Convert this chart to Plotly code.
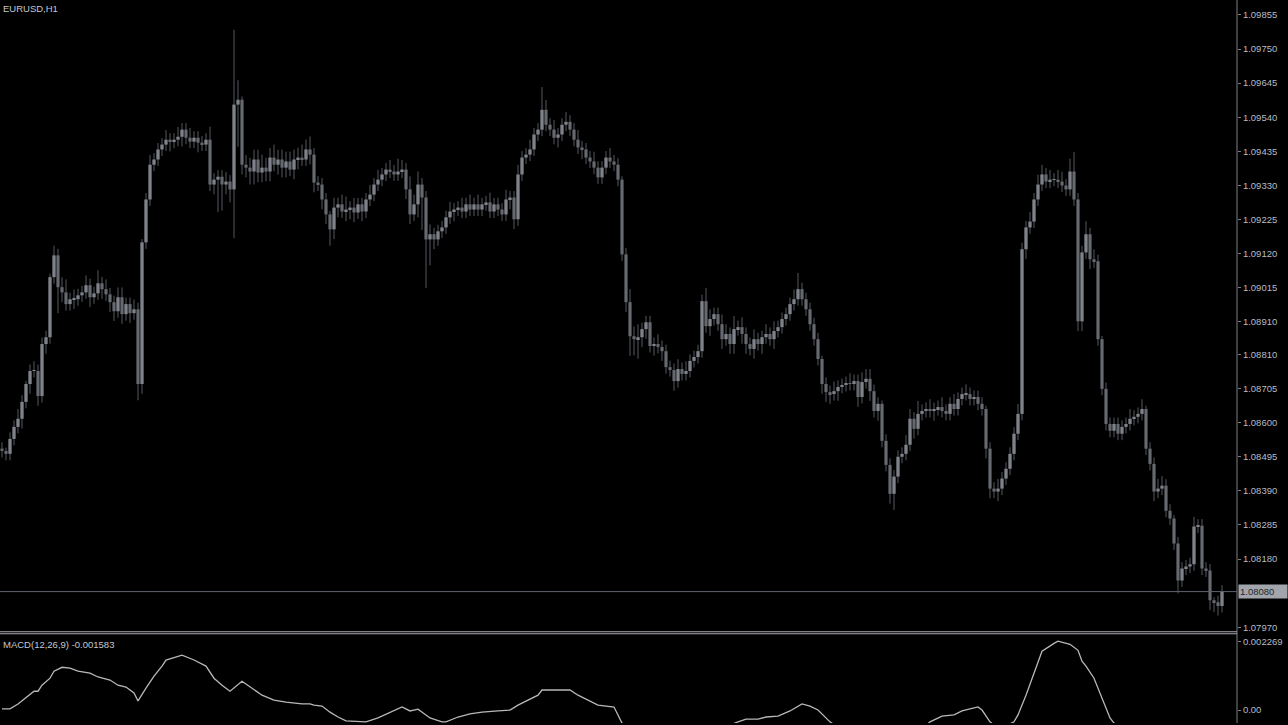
import plotly.graph_objects as go

# ---------------- data ----------------
symbol_label = "EURUSD,H1"
macd_label = "MACD(12,26,9) -0.001583"

first_open = 1.08520
closes = [
    1.08513, 1.08504, 1.08550, 1.08587, 1.08612, 1.08664, 1.08719, 1.08759, 1.08759, 1.08682,
    1.08842, 1.08863, 1.09048, 1.09115, 1.09017, 1.09001, 1.08965, 1.08980, 1.08980, 1.08992,
    1.09001, 1.09023, 1.08986, 1.08998, 1.09029, 1.09011, 1.08995, 1.08971, 1.08943, 1.08986,
    1.08934, 1.08965, 1.08937, 1.08949, 1.08719, 1.09155, 1.09287, 1.09394, 1.09410, 1.09441,
    1.09456, 1.09471, 1.09465, 1.09471, 1.09480, 1.09502, 1.09477, 1.09465, 1.09477, 1.09462,
    1.09456, 1.09471, 1.09333, 1.09348, 1.09357, 1.09333, 1.09342, 1.09318, 1.09579, 1.09594,
    1.09394, 1.09385, 1.09373, 1.09410, 1.09370, 1.09385, 1.09373, 1.09416, 1.09394, 1.09410,
    1.09385, 1.09404, 1.09379, 1.09410, 1.09416, 1.09410, 1.09441, 1.09425, 1.09339, 1.09333,
    1.09287, 1.09241, 1.09195, 1.09262, 1.09272, 1.09250, 1.09256, 1.09262, 1.09247, 1.09272,
    1.09250, 1.09287, 1.09302, 1.09333, 1.09348, 1.09364, 1.09379, 1.09373, 1.09364, 1.09373,
    1.09379, 1.09318, 1.09241, 1.09272, 1.09333, 1.09293, 1.09164, 1.09180, 1.09164, 1.09189,
    1.09201, 1.09232, 1.09250, 1.09256, 1.09262, 1.09250, 1.09272, 1.09256, 1.09272, 1.09256,
    1.09272, 1.09278, 1.09250, 1.09272, 1.09256, 1.09241, 1.09287, 1.09293, 1.09226, 1.09364,
    1.09416, 1.09425, 1.09441, 1.09487, 1.09502, 1.09563, 1.09517, 1.09502, 1.09477, 1.09487,
    1.09517, 1.09526, 1.09502, 1.09471, 1.09447, 1.09441, 1.09416, 1.09404, 1.09385, 1.09355,
    1.09385, 1.09416, 1.09404, 1.09394, 1.09348, 1.09118, 1.08971, 1.08866, 1.08857, 1.08863,
    1.08888, 1.08909, 1.08836, 1.08842, 1.08833, 1.08820, 1.08771, 1.08762, 1.08728, 1.08765,
    1.08750, 1.08759, 1.08790, 1.08802, 1.08820, 1.08974, 1.08897, 1.08919, 1.08934, 1.08903,
    1.08857, 1.08873, 1.08842, 1.08888, 1.08894, 1.08873, 1.08842, 1.08827, 1.08857, 1.08842,
    1.08863, 1.08873, 1.08857, 1.08882, 1.08894, 1.08919, 1.08934, 1.08965, 1.08980, 1.09011,
    1.08980, 1.08949, 1.08903, 1.08857, 1.08796, 1.08719, 1.08694, 1.08688, 1.08697, 1.08710,
    1.08716, 1.08722, 1.08719, 1.08728, 1.08679, 1.08725, 1.08735, 1.08697, 1.08636, 1.08658,
    1.08544, 1.08470, 1.08381, 1.08434, 1.08495, 1.08504, 1.08532, 1.08612, 1.08581, 1.08627,
    1.08636, 1.08642, 1.08636, 1.08642, 1.08648, 1.08636, 1.08627, 1.08658, 1.08642, 1.08673,
    1.08688, 1.08688, 1.08673, 1.08679, 1.08658, 1.08642, 1.08520, 1.08397, 1.08388, 1.08397,
    1.08428, 1.08458, 1.08504, 1.08566, 1.08627, 1.09134, 1.09201, 1.09219, 1.09287, 1.09333,
    1.09364, 1.09342, 1.09348, 1.09348, 1.09342, 1.09330, 1.09318, 1.09373, 1.09287, 1.08912,
    1.09124, 1.09180, 1.09103, 1.09097, 1.08857, 1.08704, 1.08596, 1.08575, 1.08596, 1.08566,
    1.08587, 1.08596, 1.08612, 1.08618, 1.08627, 1.08642, 1.08520, 1.08473, 1.08388, 1.08397,
    1.08406, 1.08329, 1.08305, 1.08228, 1.08114, 1.08151, 1.08157, 1.08164, 1.08280, 1.08283,
    1.08151, 1.08145, 1.08053, 1.08047, 1.08036, 1.08080,
]

wick_up_pips = [
    2, 1, 2, 2, 3, 2, 1, 2, 3, 2,
    2, 2, 1, 3, 2, 3, 4, 2, 3, 2,
    2, 3, 2, 2, 4, 2, 3, 2, 2, 3,
    3, 2, 2, 3, 2, 1, 2, 3, 2, 2,
    2, 3, 2, 2, 3, 2, 2, 3, 2, 2,
    2, 2, 4, 2, 2, 2, 3, 2, 23, 6,
    1, 3, 3, 3, 3, 4, 3, 3, 4, 3,
    3, 3, 3, 3, 3, 4, 3, 4, 2, 2,
    2, 2, 1, 3, 2, 3, 4, 2, 3, 2,
    2, 2, 3, 2, 3, 2, 2, 3, 2, 4,
    3, 2, 4, 3, 4, 2, 2, 3, 2, 2,
    2, 2, 3, 2, 2, 3, 2, 3, 2, 3,
    2, 2, 3, 2, 2, 2, 3, 2, 2, 3,
    2, 2, 3, 2, 2, 7, 3, 2, 3, 2,
    2, 3, 2, 2, 3, 2, 2, 2, 3, 2,
    2, 2, 3, 2, 2, 1, 2, 4, 3, 4,
    2, 2, 2, 2, 3, 2, 2, 2, 2, 3,
    2, 3, 2, 2, 2, 2, 4, 3, 2, 2,
    3, 3, 2, 4, 2, 3, 2, 2, 3, 2,
    2, 3, 2, 3, 2, 2, 2, 2, 3, 5,
    2, 2, 2, 2, 2, 1, 2, 2, 3, 2,
    2, 2, 3, 2, 2, 3, 3, 3, 2, 2,
    1, 2, 2, 2, 2, 2, 3, 3, 2, 4,
    2, 2, 3, 2, 2, 3, 2, 2, 3, 2,
    2, 3, 2, 2, 2, 2, 1, 2, 2, 3,
    2, 2, 2, 2, 3, 2, 2, 3, 2, 3,
    3, 2, 3, 2, 3, 3, 2, 4, 6, 2,
    2, 4, 2, 3, 2, 1, 2, 2, 2, 2,
    2, 2, 3, 2, 2, 3, 1, 2, 2, 3,
    3, 2, 2, 1, 2, 2, 2, 2, 3, 2,
    2, 2, 2, 1, 2, 2,
]

wick_dn_pips = [
    2, 2, 2, 2, 2, 3, 2, 3, 2, 3,
    2, 3, 2, 2, 8, 3, 2, 2, 3, 2,
    2, 2, 3, 2, 2, 3, 2, 3, 3, 2,
    3, 2, 3, 2, 5, 3, 2, 2, 2, 2,
    2, 2, 3, 2, 2, 3, 2, 2, 2, 3,
    2, 2, 2, 3, 10, 8, 3, 4, 15, 13,
    3, 3, 4, 4, 3, 3, 3, 3, 2, 3,
    3, 3, 2, 3, 3, 2, 2, 3, 3, 2,
    3, 3, 5, 3, 3, 2, 3, 3, 3, 2,
    3, 2, 2, 2, 2, 2, 2, 2, 2, 2,
    2, 3, 3, 2, 4, 10, 15, 8, 3, 2,
    2, 2, 2, 3, 2, 2, 2, 2, 2, 2,
    2, 2, 2, 2, 2, 2, 2, 3, 3, 2,
    2, 2, 2, 2, 2, 2, 2, 2, 2, 3,
    2, 2, 2, 2, 2, 3, 2, 2, 2, 2,
    2, 2, 2, 2, 2, 2, 3, 6, 5, 6,
    3, 3, 2, 3, 2, 3, 2, 2, 3, 2,
    2, 2, 2, 2, 2, 2, 2, 3, 2, 2,
    3, 2, 3, 3, 2, 3, 3, 2, 3, 2,
    3, 2, 2, 3, 2, 2, 2, 2, 2, 2,
    2, 2, 2, 2, 2, 3, 3, 3, 2, 3,
    2, 2, 2, 2, 3, 2, 2, 3, 2, 3,
    2, 2, 3, 5, 2, 2, 2, 2, 3, 2,
    2, 2, 2, 3, 2, 2, 2, 2, 2, 2,
    2, 2, 2, 2, 2, 2, 3, 3, 2, 3,
    2, 2, 2, 2, 2, 2, 3, 2, 2, 2,
    2, 2, 2, 2, 2, 2, 2, 2, 2, 3,
    3, 2, 3, 2, 2, 2, 2, 2, 2, 2,
    2, 2, 2, 2, 2, 2, 2, 2, 3, 2,
    2, 2, 2, 2, 4, 2, 2, 2, 2, 2,
    2, 2, 3, 3, 3, 2,
]

price_ticks = [1.09855, 1.09750, 1.09645, 1.09540, 1.09435, 1.09330, 1.09225, 1.09120,
               1.09015, 1.08910, 1.08810, 1.08705, 1.08600, 1.08495, 1.08390, 1.08285,
               1.08180, 1.07970]
price_tick_text = ["1.09855", "1.09750", "1.09645", "1.09540", "1.09435", "1.09330",
                   "1.09225", "1.09120", "1.09015", "1.08910", "1.08810", "1.08705",
                   "1.08600", "1.08495", "1.08390", "1.08285", "1.08180", "1.07970"]
current_price = 1.08080
current_price_text = "1.08080"

macd_idx = [0, 2, 4, 6, 8, 9, 10, 12, 13, 15, 17, 19, 22, 24, 27, 29, 31, 33, 34, 36,
            38, 40, 41, 45, 48, 51, 53, 55, 57, 60, 63, 65, 68, 71, 75, 77, 78, 80, 82, 84,
            86, 89, 91, 94, 97, 100, 102, 104, 107, 110, 111, 114, 117, 120, 124, 127, 129, 131, 134, 135,
            142, 144, 146, 149, 153, 154, 155, 158, 162, 167, 172, 177, 180, 184, 186, 189, 191, 194, 197, 200,
            202, 204, 207, 210, 215, 220, 224, 227, 230, 232, 235, 238, 240, 244, 245, 247, 249, 250, 253, 254,
            256, 258, 260, 263, 264, 267, 269, 270, 271, 273, 275, 277, 278, 282, 286, 290, 295, 300, 305]
macd_vals = [0.00004, 0.00004, 0.00020, 0.00040, 0.00062, 0.00062, 0.00082, 0.00105, 0.00128, 0.00141,
             0.00138, 0.00128, 0.00122, 0.00109, 0.00099, 0.00082, 0.00076, 0.00056, 0.00030, 0.00072,
             0.00112, 0.00145, 0.00165, 0.00181, 0.00165, 0.00145, 0.00105, 0.00082, 0.00062, 0.00095,
             0.00069, 0.00049, 0.00033, 0.00026, 0.00020, 0.00020, 0.00016, 0.00013, -0.00007, -0.00023,
             -0.00036, -0.00039, -0.00039, -0.00026, -0.00007, 0.00010, -0.00003, 0.00003, -0.00026, -0.00039,
             -0.00039, -0.00023, -0.00013, -0.00007, -0.00003, 0.00000, 0.00016, 0.00030, 0.00049, 0.00066,
             0.00066, 0.00049, 0.00036, 0.00016, 0.00010, -0.00016, -0.00043, -0.00080, -0.00110, -0.00125,
             -0.00120, -0.00090, -0.00060, -0.00039, -0.00030, -0.00030, -0.00023, -0.00020, -0.00003, 0.00020,
             0.00013, 0.00000, -0.00039, -0.00065, -0.00080, -0.00090, -0.00110, -0.00095, -0.00060, -0.00039,
             -0.00020, -0.00016, -0.00003, 0.00010, 0.00000, -0.00039, -0.00060, -0.00058, -0.00039, -0.00016,
             0.00049, 0.00122, 0.00194, 0.00220, 0.00227, 0.00217, 0.00197, 0.00161, 0.00145, 0.00105,
             0.00039, -0.00026, -0.00043, -0.00080, -0.00105, -0.00130, -0.00150, -0.00158, -0.001583]
macd_ticks = [0.002269, 0.0]
macd_tick_text = ["0.002269", "0.00"]

# ---------------- styling ----------------
BG = "#000000"
WICK = "#55585f"
BULL = "#a8acb6"
BEAR = "#767a83"
AXIS = "#7c7f86"
TXT = "#b6bcc6"
FONT = "Liberation Sans, Arial, sans-serif"
PIP = 0.0001

n = len(closes)
idx = list(range(n))
opens = [first_open] + closes[:-1]
highs = [max(o, c) + u * PIP for o, c, u in zip(opens, closes, wick_up_pips)]
lows = [min(o, c) - d * PIP for o, c, d in zip(opens, closes, wick_dn_pips)]

wx, wy = [], []
for i, h, l in zip(idx, highs, lows):
    wx += [i, i, None]
    wy += [l, h, None]

bases = [min(o, c) for o, c in zip(opens, closes)]
heights = [max(abs(c - o), 0.00002) for o, c in zip(opens, closes)]
colors = [BULL if c >= o else BEAR for o, c in zip(opens, closes)]

x_range = [-0.5, 308.75]
main_dom = [0.12828, 1.0]
sub_dom = [0.0, 0.12138]

fig = go.Figure()
fig.add_trace(go.Scatter(x=wx, y=wy, mode="lines", line=dict(color=WICK, width=1),
                         hoverinfo="skip", showlegend=False, xaxis="x", yaxis="y"))
fig.add_trace(go.Bar(x=idx, y=heights, base=bases, width=0.75,
                     marker=dict(color=colors, line=dict(width=0)),
                     hoverinfo="skip", showlegend=False, xaxis="x", yaxis="y"))
fig.add_trace(go.Scatter(x=macd_idx, y=macd_vals, mode="lines",
                         line=dict(color="#b8b8b8", width=1.3),
                         hoverinfo="skip", showlegend=False, xaxis="x2", yaxis="y2"))

fig.update_layout(
    width=1288, height=725, autosize=False,
    margin=dict(l=0, r=51, t=0, b=0),
    paper_bgcolor=BG, plot_bgcolor=BG,
    font=dict(family=FONT, size=9.5, color=TXT),
    barmode="overlay", showlegend=False, hovermode=False,
    xaxis=dict(domain=[0, 1], range=x_range, visible=False, anchor="y"),
    xaxis2=dict(domain=[0, 1], range=x_range, visible=False, anchor="y2"),
    yaxis=dict(domain=main_dom, range=[1.07961, 1.09901], side="right", anchor="x",
               tickmode="array", tickvals=price_ticks, ticktext=price_tick_text,
               showgrid=False, zeroline=False, showline=False,
               ticks="outside", ticklen=3, tickcolor=AXIS,
               tickfont=dict(family=FONT, size=9.5, color=TXT)),
    yaxis2=dict(domain=sub_dom, range=[-0.000428, 0.0024675], side="right", anchor="x2",
                tickmode="array", tickvals=macd_ticks, ticktext=macd_tick_text,
                showgrid=False, zeroline=False, showline=False,
                ticks="outside", ticklen=3, tickcolor=AXIS,
                tickfont=dict(family=FONT, size=9.5, color=TXT)),
)

shapes = [
    # right price-scale border
    dict(type="line", xref="paper", yref="paper", x0=1, x1=1, y0=0, y1=1,
         line=dict(color=AXIS, width=1)),
    # double separator between panes
    dict(type="line", xref="paper", yref="paper", x0=0, x1=1, y0=0.12621, y1=0.12621,
         line=dict(color="#a8a8b0", width=1)),
    dict(type="line", xref="paper", yref="paper", x0=0, x1=1, y0=0.12345, y1=0.12345,
         line=dict(color="#a8a8b0", width=1)),
    # current price line
    dict(type="line", xref="paper", yref="y", x0=0, x1=1, y0=current_price, y1=current_price,
         line=dict(color="#5e626b", width=1)),
]
fig.update_layout(shapes=shapes)

fig.add_annotation(text=symbol_label, xref="paper", yref="paper", x=0.0, y=1.0,
                   xanchor="left", yanchor="top", xshift=1, yshift=-1, showarrow=False,
                   font=dict(family=FONT, size=9.5, color="#c4c8d0"))
fig.add_annotation(text=macd_label, xref="paper", yref="paper", x=0.0, y=sub_dom[1],
                   xanchor="left", yanchor="top", xshift=1, yshift=-2, showarrow=False,
                   font=dict(family=FONT, size=9.5, color="#c4c8d0"))
fig.add_annotation(text=current_price_text, xref="paper", yref="y", x=1.0, y=current_price,
                   xanchor="left", yanchor="middle", xshift=1, showarrow=False,
                   bgcolor="#a2a5ac", borderpad=1, width=46, align="left",
                   font=dict(family=FONT, size=9.5, color="#22252b"))

fig.write_html("out.html", include_plotlyjs=True, config={"displayModeBar": False},
               post_script="document.body.style.margin='0';document.body.style.background='#000';document.body.style.overflow='hidden';")
